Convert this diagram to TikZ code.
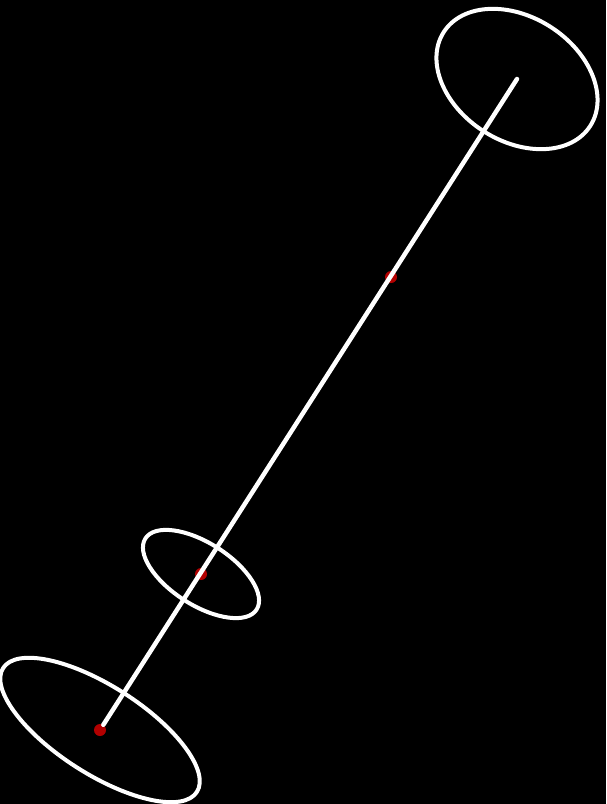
\documentclass[tikz,border=0pt]{standalone}
\begin{document}
\begin{tikzpicture}[
  x=1pt, y=-1pt,
  joint/.style = {circle, fill=red!70!black, inner sep=0pt, minimum size=12pt},
  rim/.style = {draw=white, line width=4pt},
  shaft/.style = {draw=white, line width=4.5pt, line cap=round}
  ]
    \useasboundingbox (0,0) rectangle (606,804);
    \fill[black] (0,0) rectangle (606,804);
    \node[joint] (base) at (100,730) {};
    \node[joint] (knee) at (201,574) {};
    \node[joint] (elbow) at (391,277) {};
    \coordinate (tip) at (517,79);
    % rims, each at right angles to the shaft
    \draw[rim, rotate around={-32.6:(tip)}] (tip) ellipse (87 and 62);
    \draw[rim, rotate around={-32.6:(knee)}] (knee) ellipse (66 and 31);
    \draw[rim, rotate around={-32.6:(base)}] (base) ellipse (115 and 44);
    \draw[shaft] (base) -- (tip);
\end{tikzpicture}
\end{document}
